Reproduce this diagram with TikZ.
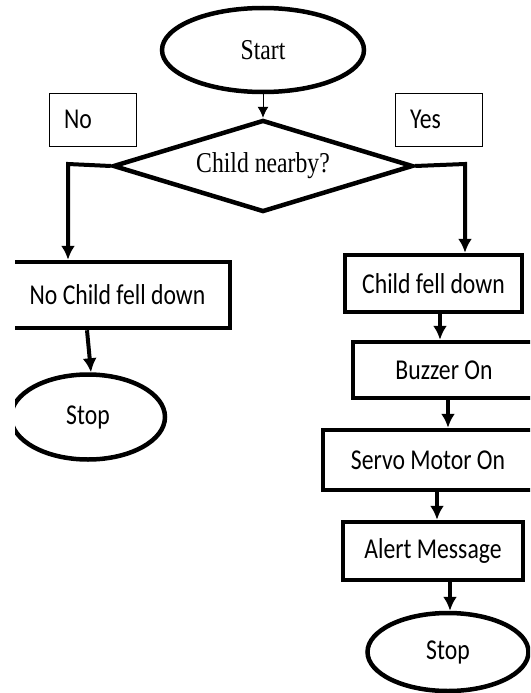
\documentclass[tikz,border=0pt]{standalone}
\usepackage{fontspec}
\setmainfont{Liberation Serif}
\newfontfamily\calib{Carlito}
\usepackage{graphicx}
\usetikzlibrary{shapes.geometric,arrows.meta}
\newcommand{\tall}[1]{\scalebox{1.03}[1.25]{#1}}
\tikzset{
  term/.style={ellipse,draw,line width=4.5pt,inner sep=0pt},
  proc/.style={rectangle,draw,line width=4.5pt,inner sep=0pt},
  tag/.style={rectangle,draw,line width=1pt,inner xsep=15pt,text width=57pt,
    minimum height=53pt,align=left},
  dec/.style={diamond,draw,line width=4.5pt,inner sep=0pt,aspect=3.26},
  flow/.style={->,line width=4pt}
}

\begin{document}
\begin{tikzpicture}[x=1pt,y=-1pt,>={Latex[length=14pt,width=14pt]},
    font=\calib\fontsize{23}{26}\selectfont]
  \useasboundingbox (0,0) rectangle (530,693);
  \clip (15,0) rectangle (530,693);
  % The start and the question
  \node[term,minimum width=202pt,minimum height=84pt,font=\rmfamily\fontsize{23}{26}\selectfont]
    (start) at (263,50) {\tall{Start}};
  \node[dec,minimum width=300pt,minimum height=92pt,font=\rmfamily\fontsize{23}{26}\selectfont]
    (ask) at (263,166) {\tall{Child nearby?}};
  \node[tag] (no) at (92.5,119.5) {\tall{No}};
  \node[tag] (yes) at (438.5,119.5) {\tall{Yes}};
  \draw[->,line width=1pt,>={Latex[length=11pt,width=11pt]}] (start) -- (ask);
  % The left branch
  \node[proc,minimum width=225pt,minimum height=66pt] (nofall) at (117.5,295) {\tall{No Child fell down}};
  \node[term,minimum width=154pt,minimum height=85pt] (stopl) at (88,417) {\tall{Stop}};
  \coordinate (lc) at (68,164);
  \draw[flow] (ask.west) -- (lc) -- (lc |- nofall.north);
  \draw[flow] (nofall.south -| 87,0) -- (stopl.north -| 91,0);
  % The right branch
  \node[proc,minimum width=177pt,minimum height=57pt] (fall) at (433.5,283.5) {\tall{Child fell down}};
  \node[proc,minimum width=182pt,minimum height=56pt] (buzz) at (444,370) {\tall{Buzzer On}};
  \node[proc,minimum width=210pt,minimum height=60pt] (servo) at (428,460) {\tall{Servo Motor On}};
  \node[proc,minimum width=180pt,minimum height=58pt] (alert) at (433,551) {\tall{Alert Message}};
  \node[term,minimum width=161pt,minimum height=78pt] (stopr) at (448,652) {\tall{Stop}};
  \coordinate (rc) at (465,164);
  \draw[flow] (ask.east) -- (rc) -- (rc |- fall.north);
  \foreach \a/\b/\x in {fall/buzz/440,buzz/servo/448,servo/alert/437,alert/stopr/450}
  {
    \draw[flow] (\a.south -| \x,0) -- (\b.north -| \x,0);
  }
\end{tikzpicture}
\end{document}
